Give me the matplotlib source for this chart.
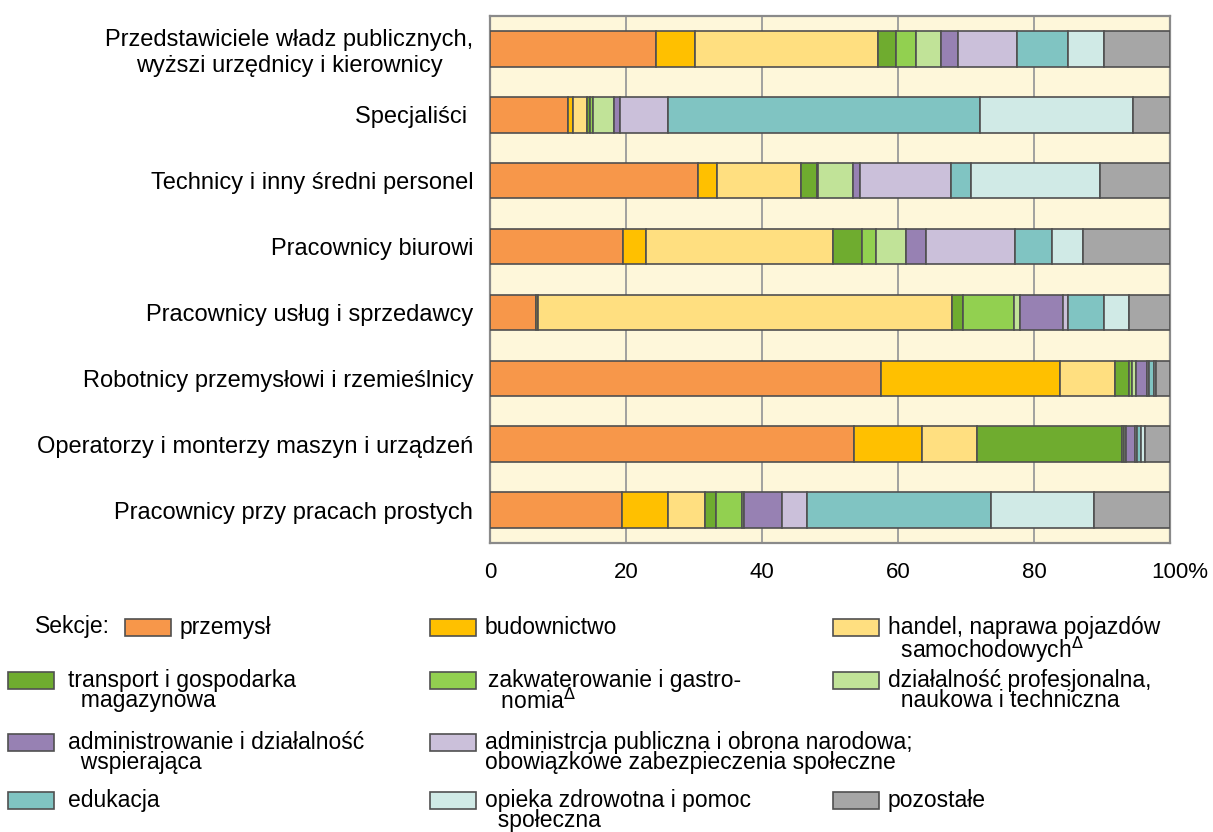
import matplotlib
matplotlib.use("Agg")
import matplotlib.pyplot as plt
from matplotlib.patches import Rectangle
import numpy as np

plt.rcParams['font.family'] = ['Liberation Sans', 'DejaVu Sans']

'''
                DANE
Grupy zawodów (od góry) i udział sekcji gospodarki w %
'''
GROUPS = ["Przedstawiciele władz publicznych,\nwyższi urzędnicy i kierownicy",
          "Specjaliści ",
          "Technicy i inny średni personel",
          "Pracownicy biurowi",
          "Pracownicy usług i sprzedawcy",
          "Robotnicy przemysłowi i rzemieślnicy",
          "Operatorzy i monterzy maszyn i urządzeń",
          "Pracownicy przy pracach prostych"]

przemysl = [24.4, 11.4, 30.6, 19.5, 6.7, 57.5, 53.5, 19.4]
budownictwo = [5.7, 0.8, 2.8, 3.5, 0.4, 26.3, 10.1, 6.8]
handel = [26.9, 2.0, 12.4, 27.5, 60.9, 8.1, 8.0, 5.4]
transport = [2.7, 0.5, 2.3, 4.2, 1.6, 2.1, 21.4, 1.6]
zakwaterowanie = [3.0, 0.5, 0.2, 2.0, 7.4, 0.4, 0.3, 3.9]
profesjonalna = [3.6, 3.1, 5.1, 4.5, 1.0, 0.6, 0.3, 0.2]
administrowanie = [2.5, 0.8, 1.0, 2.9, 6.2, 1.6, 1.2, 5.6]
adm_publiczna = [8.7, 7.1, 13.4, 13.1, 0.8, 0.3, 0.3, 3.7]
edukacja = [7.5, 45.8, 2.9, 5.5, 5.3, 0.7, 0.6, 27.1]
opieka = [5.3, 22.6, 19.0, 4.5, 3.6, 0.4, 0.6, 15.1]
pozostale = [9.7, 5.4, 10.3, 12.8, 6.1, 2.0, 3.7, 11.2]

SERIES = [przemysl, budownictwo, handel, transport, zakwaterowanie, profesjonalna,
          administrowanie, adm_publiczna, edukacja, opieka, pozostale]

# opisy w legendzie (druga linia wcięta spacjami, jak w oryginale)
SECTIONS = ["przemysł",
            "budownictwo",
            "handel, naprawa pojazdów\n  samochodowych$^{\\Delta}$",
            "transport i gospodarka\n  magazynowa",
            "zakwaterowanie i gastro-\n  nomia$^{\\Delta}$",
            "działalność profesjonalna,\n  naukowa i techniczna",
            "administrowanie i działalność\n  wspierająca",
            "administrcja publiczna i obrona narodowa;\nobowiązkowe zabezpieczenia społeczne",
            "edukacja",
            "opieka zdrowotna i pomoc\n  społeczna",
            "pozostałe"]

XTICKS = [0, 20, 40, 60, 80, 100]
XTICK_LABELS = ["0", "20", "40", "60", "80", ""]

'''
                STYL
'''
COLORS = ["#F7974A", "#FFC000", "#FFDF80", "#6FAC2F", "#92D050", "#C1E398",
          "#9781B3", "#CBC0DA", "#80C4C2", "#D0EAE6", "#A6A6A6"]
EDGE = "#505050"
W, H = 1213, 832
FS_LEG = 16.5

# pozycje legendy w pikselach: (x kwadratu, y wiersza, x tekstu)
LEGEND_POS = [(125, 627, 180), (430, 627, 485), (833, 627, 888),
              (8, 680, 68), (430, 680, 488), (833, 680, 888),
              (8, 742, 68), (430, 742, 485),
              (8, 800, 68), (430, 800, 485), (833, 800, 888)]


def px(x):
    return x / W


def py(y):
    return 1 - y / H


fig = plt.figure(figsize=(W / 100, H / 100), dpi=100)
ax = fig.add_axes([px(490), py(543), 680 / W, 527 / H])
ax.set_facecolor("#FEF7DA")

ypos = np.arange(len(GROUPS))
left = np.zeros(len(GROUPS))
for vals, col in zip(SERIES, COLORS):
    ax.barh(ypos, vals, left=left, height=0.54, color=col,
            edgecolor=EDGE, linewidth=1.2, zorder=3)
    left += np.array(vals)

ax.set_xlim(0, 100)
ax.set_ylim(len(GROUPS) - 0.5, -0.5)

ax.set_xticks(XTICKS)
ax.set_xticklabels(XTICK_LABELS)
ax.tick_params(axis="x", length=0, pad=14, labelsize=16)
# "100%" - sama liczba wyśrodkowana pod linią
ax.annotate("100%", xy=(100, 0), xycoords=("data", "axes fraction"),
            xytext=(-13.3, -14), textcoords="offset points",
            ha="left", va="top", fontsize=16)

ax.set_yticks(ypos)
ax.set_yticklabels(GROUPS, fontsize=17, multialignment="center")
ax.tick_params(axis="y", length=0, pad=12)

ax.set_axisbelow(True)
ax.xaxis.grid(True, color="#9a9a9a", linewidth=1.3)
for sp in ax.spines.values():
    sp.set_color("#8a8a8a")
    sp.set_linewidth(1.6)

# legenda rysowana ręcznie
fs_px = FS_LEG * 100 / 72
top = 0.37 * fs_px + 3  # od środka wiersza do górnej krawędzi tekstu
fig.text(px(35), py(627), "Sekcje:", fontsize=FS_LEG, va="center", ha="left")
for label, col, (bx, by, tx) in zip(SECTIONS, COLORS, LEGEND_POS):
    fig.add_artist(Rectangle((px(bx), py(by + 8.5)), 46 / W, 17 / H,
                             transform=fig.transFigure, facecolor=col,
                             edgecolor=EDGE, linewidth=1.2))
    fig.text(px(tx), py(by - top), label, fontsize=FS_LEG, va="top",
             ha="left", linespacing=0.86)

fig.savefig("out.png", dpi=100)
